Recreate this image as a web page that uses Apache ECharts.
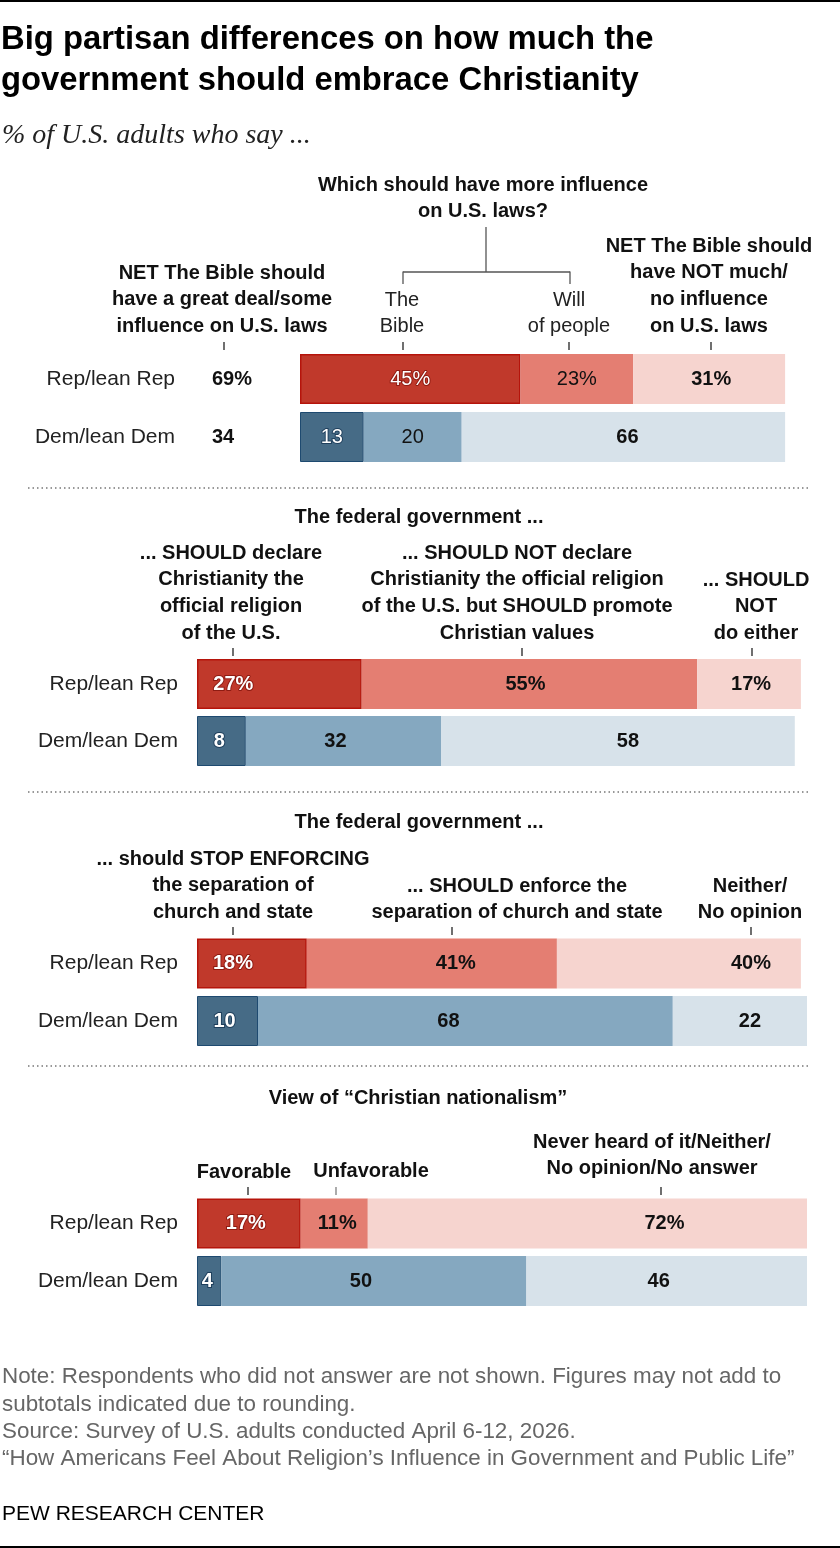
<!DOCTYPE html>
<html><head><meta charset="utf-8">
<script src="https://cdn.jsdelivr.net/npm/echarts@6/dist/echarts.min.js"></script>
<style>html,body{margin:0;padding:0;background:#fff}#c{width:840px;height:1548px}</style>
</head><body><div id="c"></div>
<script>
// ---------- DATA ----------
const parties = ['Rep/lean Rep', 'Dem/lean Dem'];
const netInfluence = [69, 34];
const p1Rep = [45, 23, 31], p1Dem = [13, 20, 66];
const p2Rep = [27, 55, 17], p2Dem = [8, 32, 58];
const p3Rep = [18, 41, 40], p3Dem = [10, 68, 22];
const p4Rep = [17, 11, 72], p4Dem = [4, 50, 46];

const p1Question = ['Which should have more influence', 'on U.S. laws?'];
const p1NetYes = ['NET The Bible should', 'have a great deal/some', 'influence on U.S. laws'];
const p1Bible = ['The', 'Bible'];
const p1Will = ['Will', 'of people'];
const p1NetNo = ['NET The Bible should', 'have NOT much/', 'no influence', 'on U.S. laws'];
const p2Title = 'The federal government ...';
const p2Cols = [['... SHOULD declare', 'Christianity the', 'official religion', 'of the U.S.'],
  ['... SHOULD NOT declare', 'Christianity the official religion', 'of the U.S. but SHOULD promote', 'Christian values'],
  ['... SHOULD', 'NOT', 'do either']];
const p3Title = 'The federal government ...';
const p3Cols = [['... should STOP ENFORCING', 'the separation of', 'church and state'],
  ['... SHOULD enforce the', 'separation of church and state'],
  ['Neither/', 'No opinion']];
const p4Title = 'View of \u201cChristian nationalism\u201d';
const p4Cols = [['Favorable'], ['Unfavorable'], ['Never heard of it/Neither/', 'No opinion/No answer']];

const titleLines = ['Big partisan differences on how much the', 'government should embrace Christianity'];
const subtitle = '% of U.S. adults who say ...';
const noteLines = ['Note: Respondents who did not answer are not shown. Figures may not add to',
  'subtotals indicated due to rounding.',
  'Source: Survey of U.S. adults conducted April 6-12, 2026.',
  '\u201cHow Americans Feel About Religion\u2019s Influence in Government and Public Life\u201d'];
const credit = 'PEW RESEARCH CENTER';

// ---------- STYLE ----------
const FONT = "'Liberation Sans', Arial, Helvetica, sans-serif";
const SERIF = "'Liberation Serif', 'Times New Roman', serif";
const REP = ['#c0392b', '#e47e72', '#f6d4cf'];
const DEM = ['#466b86', '#85a8c0', '#d7e2ea'];
const grids = [
  {left: 300, width: 490, top: 350, height: 116},
  {left: 197, width: 610, top: 655.5, height: 114},
  {left: 197, width: 610, top: 934.75, height: 115},
  {left: 197, width: 610, top: 1194.75, height: 115}
];
const labelOffsets = [
  {rep: [0, 0, 2], dem: [0, 0, 4]},
  {rep: [-46, -4, 2], dem: [-2, -8, 10]},
  {rep: [-19, 24, 72], dem: [-3, -17, 10]},
  {rep: [-3, 3, 77], dem: [-2, -13, -8]}
];
const labelBold = [[false, false, true], [true, true, true], [true, true, true], [true, true, true]];

function panelSeries(gi, rep, dem) {
  return [0, 1, 2].map(k => ({
    type: 'bar', xAxisIndex: gi, yAxisIndex: gi, stack: 'p' + gi, barWidth: 50,
    animation: false,
    label: {
      show: true, position: 'inside', fontFamily: FONT, fontSize: 20,
      fontWeight: labelBold[gi][k] ? 'bold' : 'normal',
      formatter: p => p.dataIndex === 0 ? p.value + '%' : '' + p.value
    },
    data: [
      {value: rep[k],
       itemStyle: {color: REP[k], borderColor: k === 0 ? '#b5140b' : REP[k], borderWidth: k === 0 ? 1.5 : 0},
       label: {offset: [labelOffsets[gi].rep[k], 0], color: k === 0 ? '#fff' : '#111',
               textBorderColor: k === 0 ? '#8e1b12' : 'transparent', textBorderWidth: k === 0 ? 2 : 0}},
      {value: dem[k],
       itemStyle: {color: DEM[k], borderColor: k === 0 ? '#1e4a70' : DEM[k], borderWidth: k === 0 ? 1 : 0},
       label: {offset: [labelOffsets[gi].dem[k], 0], color: k === 0 ? '#fff' : '#111',
               textBorderColor: k === 0 ? '#1f3f5c' : 'transparent', textBorderWidth: k === 0 ? 2 : 0}}
    ]
  }));
}

function yAxisFor(gi) {
  return {
    gridIndex: gi, type: 'category', data: parties, inverse: true,
    axisLine: {show: false}, axisTick: {show: false}, splitLine: {show: false},
    axisLabel: {margin: gi === 0 ? 125 : 19, fontFamily: FONT, fontSize: 21, color: '#222'}
  };
}
// extra label-only axis for the NET column of panel 1
const netAxis = {
  gridIndex: 0, type: 'category', data: parties, inverse: true, position: 'left',
  axisLine: {show: false}, axisTick: {show: false}, splitLine: {show: false},
  axisLabel: {margin: 88, align: 'left', fontFamily: FONT, fontSize: 20, fontWeight: 'bold', color: '#111',
    formatter: (v, i) => netInfluence[i] + (i === 0 ? '%' : '')}
};

// ---------- GRAPHIC HELPERS ----------
const G = [];
function T(text, x, y, o) {
  o = o || {};
  G.push({type: 'text', x: x, y: y, silent: true, style: {
    text: text, fill: o.color || '#111', fontFamily: o.family || FONT,
    fontSize: o.size || 20, fontWeight: o.weight || 'bold', fontStyle: o.style || 'normal',
    align: o.align || 'center', verticalAlign: 'middle'}});
}
function TL(lines, x, y0, o, dy) {
  dy = dy || 26.7;
  lines.forEach((l, i) => T(l, x, y0 + i * dy, o));
}
function L(x1, y1, x2, y2, o) {
  o = o || {};
  G.push({type: 'line', silent: true, shape: {x1, y1, x2, y2},
    style: {stroke: o.color || '#333', lineWidth: o.w || 1.3, lineDash: o.dash || null}});
}
function tick(x, y1, y2, c) { L(x, y1, x, y2, {color: c || '#333', w: 1.4}); }

// frame lines
G.push({type: 'rect', silent: true, shape: {x: 0, y: 0, width: 840, height: 2}, style: {fill: '#000'}});
G.push({type: 'rect', silent: true, shape: {x: 0, y: 1546, width: 840, height: 2}, style: {fill: '#000'}});

// title / subtitle
T(titleLines[0], 1, 40, {size: 32.8, align: 'left', color: '#000'});
T(titleLines[1], 1, 81, {size: 32.8, align: 'left', color: '#000'});
T(subtitle, 2, 136, {size: 28, align: 'left', weight: 'normal', style: 'italic', family: SERIF, color: '#222'});

// panel 1 headers
TL(p1Question, 483, 185);
L(486, 227, 486, 272, {color: '#555'});
L(403, 272, 570, 272, {color: '#555'});
L(403, 271.4, 403, 284, {color: '#555'});
L(570, 271.4, 570, 284, {color: '#555'});
TL(p1NetYes, 222, 273);
TL(p1Bible, 402, 300, {weight: 'normal', color: '#222'});
TL(p1Will, 569, 300, {weight: 'normal', color: '#222'});
TL(p1NetNo, 709, 246);
[224, 403, 569, 711].forEach(x => tick(x, 342, 350));

// separators
[488, 792, 1066].forEach(y => L(28, y, 811, y, {color: '#777', w: 1.5, dash: [1.5, 3]}));

// panel 2 headers
T(p2Title, 419, 517);
TL(p2Cols[0], 231, 553);
TL(p2Cols[1], 517, 553);
TL(p2Cols[2], 756, 580);
[233, 522, 752].forEach(x => tick(x, 648, 656));

// panel 3 headers
T(p3Title, 419, 822);
TL(p3Cols[0], 233, 859);
TL(p3Cols[1], 517, 886);
TL(p3Cols[2], 750, 886);
[233, 452, 751].forEach(x => tick(x, 927, 935));

// panel 4 headers
T(p4Title, 418, 1098);
T(p4Cols[0][0], 244, 1172);
T(p4Cols[1][0], 371, 1171);
TL(p4Cols[2], 652, 1142);
tick(248, 1187, 1195); tick(336, 1187, 1195, '#888'); tick(661, 1187, 1195);

// footer
TL(noteLines, 2, 1377, {size: 22.4, weight: 'normal', align: 'left', color: '#666'}, 27.4);
T(credit, 2, 1514, {size: 21, weight: 'normal', align: 'left', color: '#000'});

// ---------- CHART ----------
const chart = echarts.init(document.getElementById('c'), null, {renderer: 'canvas'});
chart.setOption({
  animation: false,
  backgroundColor: '#fff',
  grid: grids.map(g => Object.assign({containLabel: false}, g)),
  xAxis: grids.map((g, i) => ({gridIndex: i, type: 'value', min: 0, max: 100, show: false})),
  yAxis: grids.map((g, i) => yAxisFor(i)).concat([netAxis]),
  series: [].concat(
    panelSeries(0, p1Rep, p1Dem),
    panelSeries(1, p2Rep, p2Dem),
    panelSeries(2, p3Rep, p3Dem),
    panelSeries(3, p4Rep, p4Dem)
  ),
  graphic: G
});
</script>
</body></html>
